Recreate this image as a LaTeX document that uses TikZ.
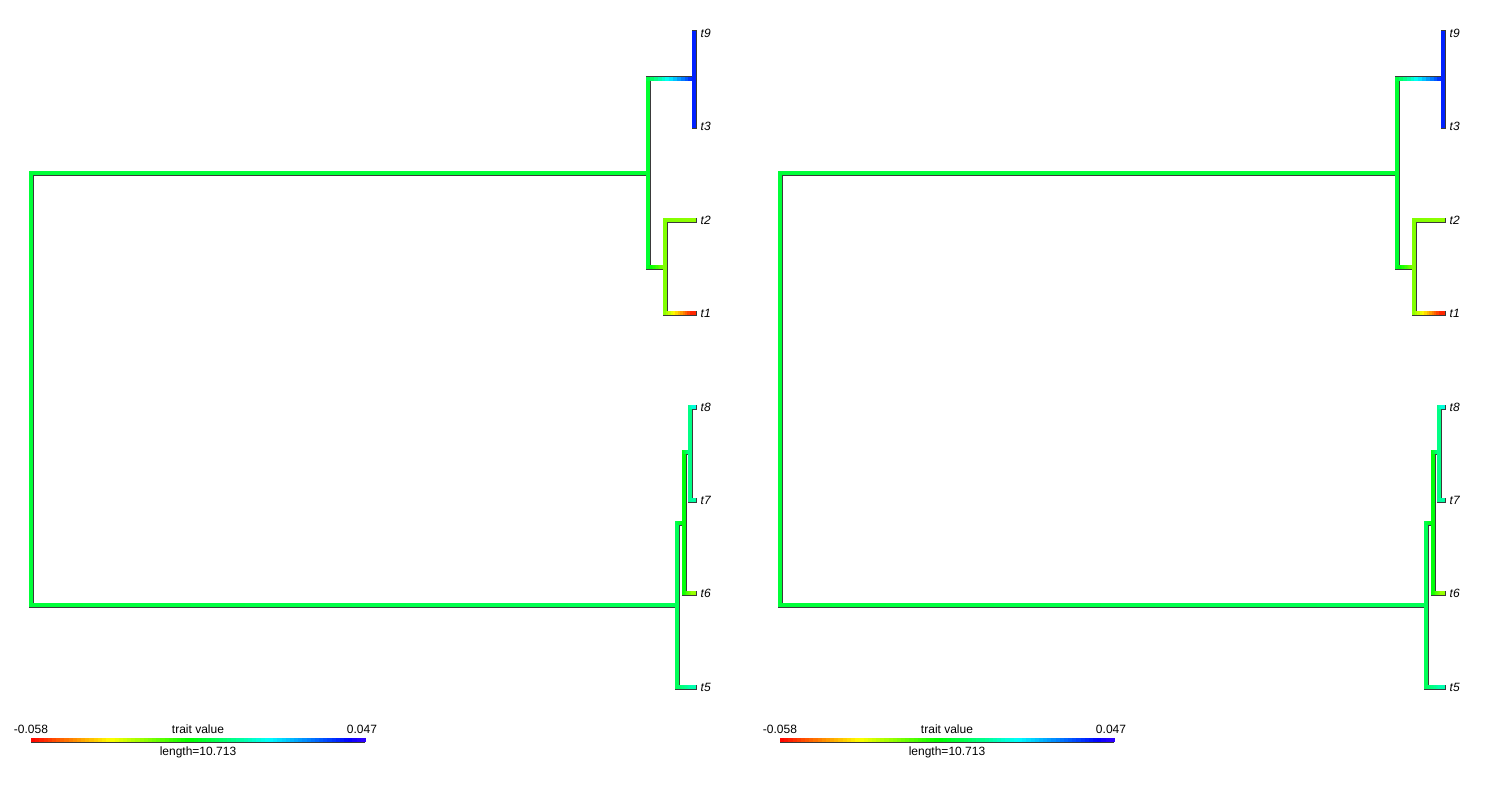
\documentclass[tikz,border=0pt]{standalone}
\usepackage{fontspec}
\setmainfont{Liberation Sans}
\usepackage{tikz}
\usetikzlibrary{calc}
\definecolor{edge}{HTML}{3A3A3A}

\begin{document}
\begin{tikzpicture}[
  x=1pt, y=-1pt,
  outl/.style={draw=edge, line width=5pt, line cap=rect},
  branch/.style={line width=3.4pt, line cap=rect},
  barseg/.style={line width=3.4pt, line cap=butt},
  tiplab/.style={anchor=west, inner sep=0pt, xshift=6.5pt,
    font=\fontsize{12}{14}\selectfont\itshape},
  barlab/.style={anchor=base, inner sep=0pt,
    font=\fontsize{12}{14}\selectfont},
]
\fill[white] (0,0) rectangle (1500,800);
\useasboundingbox (0,0) rectangle (1500,800);

\foreach \dx/\pre in {0/L, 749/R}{
\begin{scope}[xshift=\dx, name prefix=\pre-]
  % Internal nodes
  \coordinate (r) at (31,389);
  \coordinate (A) at (648,173);
  \coordinate (B) at (677,605);
  \coordinate (C) at (694,79);
  \coordinate (D) at (665,267);
  \coordinate (E) at (684,523);
  \coordinate (F) at (690,452);

  % Tips
  \foreach \tp/\ty in {t9/33, t3/126, t2/220, t1/313, t8/407, t7/500, t6/593, t5/687}
    \coordinate (\tp) at (694,\ty);

  % Outlines first
  \foreach \pn/\cn in {r/A, r/B, A/C, A/D, C/t9, C/t3, D/t2, D/t1,
                       B/E, B/t5, E/F, E/t6, F/t8, F/t7}
    \draw[outl] (\pn) -- (\pn |- \cn) -- (\cn);

  % Coloured branches (hue of parent / child)
  \foreach \pn/\cn/\hp/\hc in {r/A/0.37/0.365, r/B/0.37/0.39,
      A/C/0.365/0.645, A/D/0.365/0.25, C/t9/0.645/0.66, C/t3/0.645/0.66,
      D/t2/0.25/0.24, D/t1/0.25/0.015, B/E/0.39/0.34, B/t5/0.39/0.45,
      E/F/0.34/0.42, E/t6/0.34/0.23, F/t8/0.42/0.48, F/t7/0.42/0.44}{
    \definecolor{seg}{hsb}{\hp,1,1}
    \draw[branch, seg] (\pn) -- (\pn |- \cn);
    \coordinate (s) at (\pn |- \cn);
    \foreach \k in {0,...,11}{
      \pgfmathsetmacro\hh{\hp+(\hc-\hp)*(\k+0.5)/12}
      \definecolor{seg}{hsb}{\hh,1,1}
      \draw[branch, seg] ($(s)!\k/12!(\cn)$) -- ($(s)!\k/12+1/12!(\cn)$);
    }
  }

  % Tip labels
  \foreach \tp in {t9, t3, t2, t1, t8, t7, t6, t5}
    \node[tiplab] (\tp-lab) at (\tp) {\tp};

  % Colour bar
  \coordinate (barL) at (31,740);
  \coordinate (barR) at (365,740);
  \draw[draw=edge, line width=5pt] (barL) -- (barR);
  \foreach \k in {0,...,79}{
    \pgfmathsetmacro\hh{0.7*(\k+0.5)/80}
    \definecolor{seg}{hsb}{\hh,1,1}
    \draw[barseg, seg] ($(barL)!\k/80!(barR)$) -- ($(barL)!\k/80+1/80!(barR) + (0.8,0)$);
  }
  \node[barlab] (lo)  at (31,733)  {-0.058};
  \node[barlab] (ttl) at (198,733) {trait value};
  \node[barlab] (hi)  at (362,733) {0.047};
  \node[barlab] (len) at (198,755) {length=10.713};
\end{scope}
}

\end{tikzpicture}
\end{document}
